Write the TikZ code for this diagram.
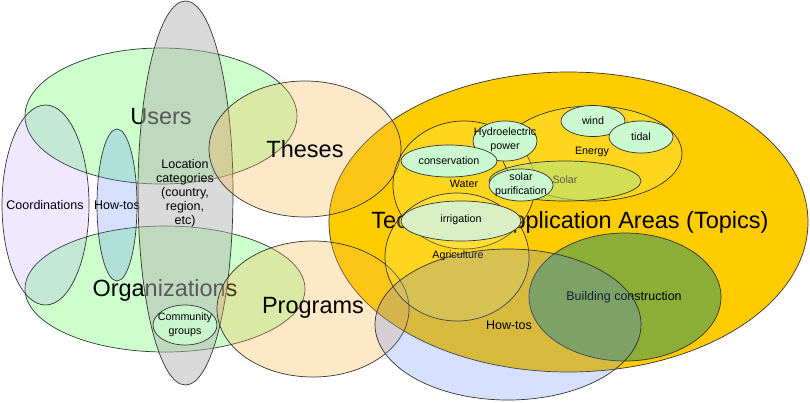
\documentclass[tikz,border=0pt]{standalone}
\usepackage{fontspec}
\setmainfont{Liberation Sans}

\definecolor{setgreen}{RGB}{0,255,0}
\definecolor{setlilac}{RGB}{153,102,255}
\definecolor{setblue}{RGB}{83,126,255}
\definecolor{setgray}{RGB}{179,179,179}
\definecolor{setpeach}{RGB}{249,184,77}
\definecolor{topicyellow}{RGB}{255,204,0}
\definecolor{subyellow}{RGB}{255,255,153}
\definecolor{solargreen}{RGB}{180,230,120}
\definecolor{mint}{RGB}{204,250,208}
\definecolor{irrgreen}{RGB}{216,240,196}
\definecolor{olivegreen}{RGB}{140,174,55}

\tikzset{
  set/.style={draw=black!80, line width=0.7pt},
  bigtext/.style={font=\fontsize{23.5}{28}\selectfont},
  smalltext/.style={font=\fontsize{12.5}{14}\selectfont, align=center, inner sep=0pt},
  tinytext/.style={font=\fontsize{10.7}{14}\selectfont, align=center, inner sep=0pt},
}

\begin{document}
\begin{tikzpicture}[x=1pt, y=-1pt]
\useasboundingbox (0,0) rectangle (810,402);

% People side
\path[set, fill=setgreen, fill opacity=0.2] (161,116) ellipse [x radius=136pt, y radius=68pt];
\node[bigtext] (users) at (161,117) {Users};
\path[set, fill=setgreen, fill opacity=0.2] (165,289) ellipse [x radius=140pt, y radius=63pt];
\node[bigtext] (orgs) at (165,290) {Organizations};
\path[set, fill=setlilac, fill opacity=0.15] (45.5,205) ellipse [x radius=43.5pt, y radius=100pt];
\node[smalltext] (coord) at (45,205) {Coordinations};
\path[set, fill=setblue, fill opacity=0.23] (117,205) ellipse [x radius=20pt, y radius=76pt];
\node[smalltext] (howtosl) at (117,205) {How-tos};

% Location categories
\path[set, fill=setgray, fill opacity=0.5] (185.5,193) ellipse [x radius=47.5pt, y radius=192pt];
\node[smalltext] (loc) at (185,193) {Location\\categories\\(country,\\region,\\etc)};
\path[set, fill=mint, fill opacity=0.9] (185,325) ellipse [x radius=32pt, y radius=20pt];
\node[tinytext] (community) at (185,325) {Community\\groups};

% Topics
\path[set, fill=topicyellow] (568.5,222) ellipse [x radius=239.5pt, y radius=150pt];
\node[bigtext] (topics) at (570,222) {Technology Application Areas (Topics)};

% Theses and programs
\path[set, fill=setpeach, fill opacity=0.31] (305,149) ellipse [x radius=96pt, y radius=68pt];
\node[bigtext] (theses) at (305,149) {Theses};
\path[set, fill=setpeach, fill opacity=0.31] (313,309) ellipse [x radius=96pt, y radius=68pt];
\node[bigtext] (programs) at (313,308) {Programs};

% Sub areas
\path[set, fill=subyellow, fill opacity=0.2] (464,185) ellipse [x radius=71pt, y radius=64pt];
\node[tinytext] (water) at (464,184) {Water};
\path[set, fill=subyellow, fill opacity=0.2] (592,153.5) ellipse [x radius=90pt, y radius=47.5pt];
\node[tinytext] (energy) at (592,152) {Energy};
\path[set, fill=subyellow, fill opacity=0.2] (457,257) ellipse [x radius=72pt, y radius=64pt];
\node[tinytext] (agri) at (458,256) {Agriculture};
\path[set, fill=solargreen, fill opacity=0.6] (565,181) ellipse [x radius=76pt, y radius=20pt];
\node[tinytext, text=black!65] (solar) at (565,180) {Solar};

% Small topics
\path[set, fill=mint] (593,121) ellipse [x radius=32pt, y radius=15.5pt];
\node[tinytext] (wind) at (593,121) {wind};
\path[set, fill=mint] (641,137) ellipse [x radius=32pt, y radius=16pt];
\node[tinytext] (tidal) at (641,137) {tidal};
\path[set, fill=mint] (505,141) ellipse [x radius=32pt, y radius=20pt];
\node[tinytext] (hydro) at (505,140) {Hydroelectric\\power};
\path[set, fill=mint] (449,161) ellipse [x radius=48pt, y radius=16pt];
\node[tinytext] (conserv) at (449,161) {conservation};
\path[set, fill=mint] (521,185) ellipse [x radius=32pt, y radius=16pt];
\node[tinytext] (solarpur) at (521,185) {solar\\purification};
\path[set, fill=irrgreen] (461,221) ellipse [x radius=60pt, y radius=20pt];
\node[tinytext] (irrig) at (461,220) {irrigation};

% Building and how-tos
\path[set, fill=olivegreen] (625,297) ellipse [x radius=96pt, y radius=64pt];
\node[smalltext] (building) at (624,297) {Building construction};
\path[set, fill=setblue, fill opacity=0.23] (508,324.5) ellipse [x radius=133pt, y radius=75.5pt];
\node[smalltext] (howtosr) at (509,325) {How-tos};
\end{tikzpicture}
\end{document}
